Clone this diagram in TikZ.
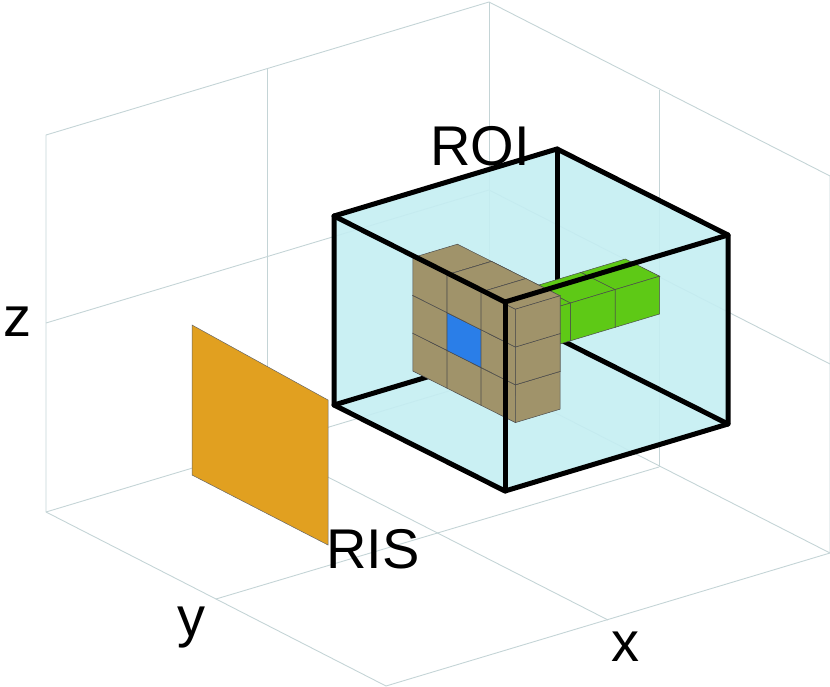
\documentclass[tikz,border=0pt]{standalone}
\usepackage{fontspec}
\setmainfont{Liberation Sans}
\usepackage{xcolor}

\definecolor{gridc}{RGB}{196,212,214}
\definecolor{roic}{RGB}{196,238,242}
\definecolor{tanc}{RGB}{160,147,106}
\definecolor{bluec}{RGB}{42,126,232}
\definecolor{greenc}{RGB}{94,201,22}
\definecolor{risc}{RGB}{225,160,32}

\tikzset{
  gridline/.style={draw=gridc, line width=0.9pt},
  roiedge/.style={draw=black, line width=5pt, line cap=round, line join=round},
  voxface/.style={draw=black!70, line width=0.5pt},
  axlabel/.style={font=\fontsize{56}{56}\selectfont, inner sep=0pt}
}

% one voxel: front (-y), top (+z) and right (+x) faces
\newcommand{\voxel}[4]{%
  \filldraw[voxface, fill=#4] (#1,#2,#3) -- ++(1,0,0) -- ++(0,0,1) -- ++(-1,0,0) -- cycle;
  \filldraw[voxface, fill=#4] (#1,#2,#3+1) -- ++(1,0,0) -- ++(0,1,0) -- ++(-1,0,0) -- cycle;
  \filldraw[voxface, fill=#4] (#1+1,#2,#3) -- ++(0,1,0) -- ++(0,0,1) -- ++(0,-1,0) -- cycle;
}

\begin{document}
\begin{tikzpicture}[x=1pt, y=-1pt]
\useasboundingbox (0,0) rectangle (830,687);

% axis walls and floor
\draw[gridline] (46,512) -- (46,135) -- (489,2) -- (830,176) -- (830,553);
\draw[gridline] (489,2) -- (489,379);
\draw[gridline] (46,512) -- (489,379) -- (830,553);
\draw[gridline] (46,512) -- (386,686) -- (830,553);
\draw[gridline] (267,446) -- (267,69);
\draw[gridline] (659,467) -- (659,90);
\draw[gridline] (46,323) -- (489,190) -- (830,364);
\draw[gridline] (216,599) -- (659,467);
\draw[gridline] (608,620) -- (267,446);

% RIS panel
\filldraw[fill=risc, draw=black!60, line width=0.5pt]
  (192,325) -- (328,400) -- (328,545) -- (192,475) -- cycle;

\begin{scope}[shift={(334pt,-405pt)}, x={(34.2pt,-17.2pt)}, y={(44.6pt,13.4pt)}, z={(0pt,37.8pt)}]
  % ROI volume
  \fill[roic, opacity=0.9] (0,0,0) -- (5,0,0) -- (5,5,0) -- (5,5,5) -- (0,5,5) -- (0,0,5) -- cycle;
  \draw[roiedge] (0,0,0) -- (0,5,0) -- (5,5,0);
  \draw[roiedge] (0,5,0) -- (0,5,5);
  % green column
  \foreach \j in {4,3,2} {
    \voxel{2}{\j}{2}{greenc}
  }
  % tan block
  \foreach \i in {1,2,3} {
    \foreach \k in {1,2,3} {
      \voxel{\i}{1}{\k}{tanc}
    }
  }
  \voxel{2}{1}{2}{bluec}
  \voxel{2}{1}{3}{tanc}
  \voxel{3}{1}{2}{tanc}
  \voxel{3}{1}{3}{tanc}
  % front edges
  \draw[roiedge] (0,0,0) -- (5,0,0) -- (5,5,0) -- (5,5,5) -- (0,5,5) -- (0,0,5) -- cycle;
  \draw[roiedge] (0,0,5) -- (5,0,5) -- (5,5,5);
  \draw[roiedge] (5,0,5) -- (5,0,0);
\end{scope}

% labels
\node[axlabel] (roi) at (480,146) {ROI};
\node[axlabel] (ris) at (373,549) {RIS};
\node[axlabel] (zlab) at (17,322) {z};
\node[axlabel] (ylab) at (191,628) {y};
\node[axlabel] (xlab) at (625,647) {x};
\end{tikzpicture}
\end{document}
